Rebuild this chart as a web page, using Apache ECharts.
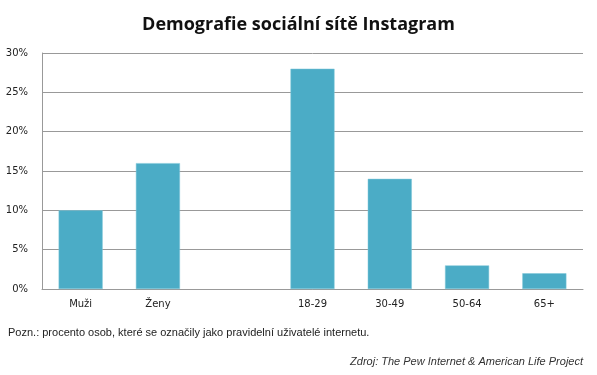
<!DOCTYPE html>
<html>
<head>
<meta charset="utf-8">
<script src="https://cdn.jsdelivr.net/npm/echarts@6/dist/echarts.min.js"></script>
<style>
  html, body { margin: 0; padding: 0; background: #fff; }
  #myChart { width: 597px; height: 375px; }
</style>
</head>
<body>
<div id="myChart"></div>
<script>
// kategorie (třetí sloupec je prázdná mezera mezi pohlavím a věkem)
const categories = ['Muži', 'Ženy', '', '18-29', '30-49', '50-64', '65+']
const values = [10, 16, '-', 28, 14, 3, 2]
const yTicks = [0, 5, 10, 15, 20, 25, 30]

let myChart = echarts.init(document.getElementById('myChart'))

var option = {
  animation: false,
  title: [
    {
      text: 'Demografie sociální sítě Instagram',
      left: 'center',
      top: 16,
      padding: 0,
      textStyle: { fontFamily: 'Open Sans', fontSize: 18, fontWeight: 'bold', color: '#111' }
    },
    {
      text: 'Pozn.: procento osob, které se označily jako pravidelní uživatelé internetu.',
      left: 8,
      top: 327,
      padding: 0,
      textStyle: { fontFamily: 'Liberation Sans', fontSize: 11, fontWeight: 'normal', color: '#222' }
    },
    {
      text: 'Zdroj: The Pew Internet & American Life Project',
      right: 14,
      top: 356,
      padding: 0,
      textStyle: { fontFamily: 'Liberation Sans', fontSize: 11, fontWeight: 'normal', fontStyle: 'italic', color: '#333' }
    }
  ],
  grid: { left: 42, right: 14, top: 53, bottom: 86 },
  xAxis: {
    type: 'category',
    data: categories,
    axisLine: { lineStyle: { color: '#999' } },
    axisTick: { show: false },
    axisLabel: { color: '#222', fontFamily: 'DejaVu Sans', fontSize: 10, margin: 10 }
  },
  yAxis: {
    type: 'value',
    min: yTicks[0],
    max: yTicks[yTicks.length - 1],
    interval: 5,
    axisLine: { show: true, lineStyle: { color: '#999' } },
    axisTick: { show: false },
    splitLine: { lineStyle: { color: '#999' } },
    axisLabel: { color: '#222', fontFamily: 'DejaVu Sans', fontSize: 10, margin: 14, formatter: '{value}%' }
  },
  series: [
    {
      type: 'bar',
      data: values,
      barCategoryGap: '43%',
      itemStyle: { color: '#4bacc6', borderColor: '#7fc6d8', borderWidth: 0.5 }
    }
  ]
}

myChart.setOption(option)
</script>
</body>
</html>
